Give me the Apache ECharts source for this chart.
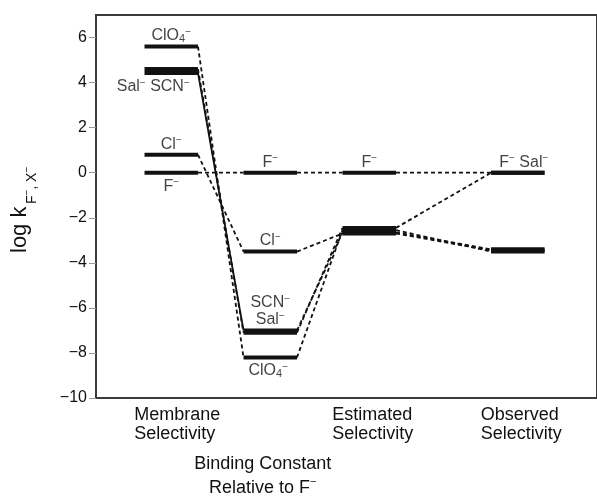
<!DOCTYPE html>
<html>
<head>
<meta charset="utf-8">
<script src="https://cdn.jsdelivr.net/npm/echarts@6/dist/echarts.min.js"></script>
<style>
  html, body { margin: 0; padding: 0; background: #fff; }
  #chart { width: 597px; height: 497px; }
</style>
</head>
<body>
<div id="chart"></div>
<script>
// Stages along the x axis and where they sit on the value axis
const stageNames = ['Membrane\nSelectivity', 'Binding Constant\nRelative to F⁻', 'Estimated\nSelectivity', 'Observed\nSelectivity'];
const stageX = [1, 2, 3, 4.5];

// Anions and their log k(F⁻, X⁻) at each stage
const ions = ['F⁻', 'Cl⁻', 'SCN⁻', 'Sal⁻', 'ClO₄⁻'];
const membraneSel = [0, 0.8, 4.43, 4.6, 5.6];
const bindingRel = [0, -3.5, -7.0, -7.1, -8.2];
const estimatedSel = [0, -2.7, -2.65, -2.45, -2.55];
const observedSel = [0, -3.45, -3.4, 0, -3.5];

// y tick labels
const yTicks = [-10, -8, -6, -4, -2, 0, 2, 4, 6];

// Connector kind for each ion between consecutive stages
const linkKinds = [
  ['dashed', 'dashed', 'dashed'],
  ['dashed', 'dashed', 'dashed'],
  ['solid', 'dashed', 'dashed'],
  ['dashed', 'dashed', 'dashed'],
  ['dashed', 'dashed', 'dashed']
];

// Level annotations: text, stage, ion whose level they mark
const tagTexts = ['ClO₄⁻', 'Sal⁻ SCN⁻', 'Cl⁻', 'F⁻', 'F⁻', 'Cl⁻', 'SCN⁻\nSal⁻', 'ClO₄⁻', 'F⁻', 'F⁻ Sal⁻'];
const tagStages = [0, 0, 0, 0, 1, 1, 1, 1, 2, 3];
const tagIons = [4, 2, 1, 0, 0, 1, 2, 4, 0, 3];

const stageVals = [membraneSel, bindingRel, estimatedSel, observedSel];
const FONT = '"Liberation Sans", Arial, sans-serif';
const INK = '#111';
const HALF = 0.27; // half length of a level bar, in x units

// Turn "ClO₄⁻" style strings into rich text with sub/superscripts
function toRich(str) {
  return str.split('\n').map(line => {
    let out = '', buf = '';
    for (const ch of line) {
      if (ch === '⁻' || ch === '₄') {
        if (buf) { out += '{t|' + buf + '}'; buf = ''; }
        out += ch === '⁻' ? '{p|−}' : '{b|4}';
      } else {
        buf += ch;
      }
    }
    if (buf) out += '{t|' + buf + '}';
    return out;
  }).join('\n');
}

const tagRich = {
  t: { fontSize: 16, lineHeight: 17, color: INK, fontFamily: FONT },
  p: { fontSize: 10, lineHeight: 8, verticalAlign: 'top', color: INK, fontFamily: FONT },
  b: { fontSize: 11, lineHeight: 11, verticalAlign: 'bottom', color: INK, fontFamily: FONT }
};

const series = [];

// dashed / solid connectors between stage levels
ions.forEach((ion, i) => {
  for (let s = 0; s < 3; s++) {
    series.push({
      type: 'line',
      name: ion,
      silent: true,
      symbol: 'none',
      z: 2,
      lineStyle: {
        color: INK,
        width: 1.8,
        type: linkKinds[i][s] === 'dashed' ? [4, 3] : 'solid',
        cap: 'butt'
      },
      data: [
        [stageX[s] + HALF, stageVals[s][i]],
        [stageX[s + 1] - HALF, stageVals[s + 1][i]]
      ]
    });
  }
});

// level bars
ions.forEach((ion, i) => {
  for (let s = 0; s < 4; s++) {
    series.push({
      type: 'line',
      name: ion,
      silent: true,
      symbol: 'none',
      z: 3,
      lineStyle: { color: INK, width: 4, cap: 'butt' },
      data: [
        [stageX[s] - HALF, stageVals[s][i]],
        [stageX[s] + HALF, stageVals[s][i]]
      ]
    });
  }
});

// annotations placed above or below their level
const tagSide = ['top', 'bottom', 'top', 'bottom', 'top', 'top', 'top', 'bottom', 'top', 'top'];
const tagShift = [0, -18, 0, 0, 0, 0, 0, -2, 0, 6];
series.push({
  type: 'scatter',
  silent: true,
  symbolSize: 0,
  z: 5,
  label: { show: true, rich: tagRich },
  data: tagTexts.map((txt, k) => ({
    value: [stageX[tagStages[k]], stageVals[tagStages[k]][tagIons[k]]],
    label: {
      show: true,
      position: tagSide[k],
      distance: tagSide[k] === 'top' ? 2 : 5,
      offset: [tagShift[k], 0],
      formatter: toRich(txt),
      rich: tagRich
    }
  }))
});

// x axis captions: left-aligned two-line captions, and one lower centred caption
function stageCaption(v) {
  const idx = stageX.indexOf(v);
  if (idx < 0) return '';
  return stageNames[idx].split('\n').map(l => '{x|' + l + '}').join('\n');
}
function bindingCaption(v) {
  const idx = stageX.indexOf(v);
  if (idx < 0) return '';
  const lines = stageNames[idx].split('\n');
  return lines.map(l => {
    if (l.endsWith('⁻')) return '{y|' + l.slice(0, -1) + '}{q|−}{s| }';
    return '{y|' + l + '}{s| }';
  }).join('\n');
}

const chart = echarts.init(document.getElementById('chart'), null, { renderer: 'canvas' });
chart.setOption({
  animation: false,
  backgroundColor: '#fff',
  textStyle: { fontFamily: FONT },
  grid: {
    left: 96, right: -5, top: 15, bottom: 94,
    show: true, borderColor: '#3a3a3a', borderWidth: 2, backgroundColor: 'transparent'
  },
  xAxis: [
    {
      type: 'value', min: 0.24, max: 5.3,
      axisLine: { show: false }, axisTick: { show: false }, splitLine: { show: false },
      axisLabel: {
        customValues: [stageX[0], stageX[2], stageX[3]],
        formatter: stageCaption,
        margin: 8,
        rich: {
          x: { fontSize: 18, lineHeight: 19, width: 74, align: 'left', color: INK, fontFamily: FONT }
        }
      }
    },
    {
      type: 'value', min: 0.24, max: 5.3, position: 'bottom',
      axisLine: { show: false }, axisTick: { show: false }, splitLine: { show: false },
      axisLabel: {
        customValues: [stageX[1]],
        formatter: bindingCaption,
        margin: 54,
        rich: {
          y: { fontSize: 18, lineHeight: 24, color: INK, fontFamily: FONT },
          q: { fontSize: 11, lineHeight: 12, verticalAlign: 'top', color: INK, fontFamily: FONT },
          s: { fontSize: 18, lineHeight: 24, width: 15 }
        }
      }
    }
  ],
  yAxis: {
    type: 'value', min: -10, max: 7,
    axisLine: { show: false },
    splitLine: { show: false },
    axisTick: { show: true, length: 7, customValues: yTicks, lineStyle: { color: '#9a9a9a', width: 1 } },
    axisLabel: {
      customValues: yTicks,
      margin: 9,
      fontSize: 16,
      color: INK,
      fontFamily: FONT,
      formatter: v => String(v).replace('-', '−')
    }
  },
  graphic: [
    {
      type: 'group',
      x: 20, y: 253,
      rotation: Math.PI / 2,
      silent: true,
      children: [
        { type: 'text', style: { text: 'log k', x: 0, y: 0, font: '22px ' + FONT, fill: INK, align: 'left', verticalAlign: 'middle', textAlign: 'left', textVerticalAlign: 'middle' } },
        { type: 'text', style: { text: 'F', x: 49, y: 12.2, font: '14px ' + FONT, fill: INK, align: 'left', verticalAlign: 'middle', textAlign: 'left', textVerticalAlign: 'middle' } },
        { type: 'text', style: { text: '−', x: 57.5, y: 7, font: '10px ' + FONT, fill: INK, align: 'left', verticalAlign: 'middle', textAlign: 'left', textVerticalAlign: 'middle' } },
        { type: 'text', style: { text: ',', x: 63.5, y: 12.2, font: '14px ' + FONT, fill: INK, align: 'left', verticalAlign: 'middle', textAlign: 'left', textVerticalAlign: 'middle' } },
        { type: 'text', style: { text: 'X', x: 71, y: 12.2, font: '14px ' + FONT, fill: INK, align: 'left', verticalAlign: 'middle', textAlign: 'left', textVerticalAlign: 'middle' } },
        { type: 'text', style: { text: '−', x: 80.5, y: 7, font: '10px ' + FONT, fill: INK, align: 'left', verticalAlign: 'middle', textAlign: 'left', textVerticalAlign: 'middle' } }
      ]
    }
  ],
  series: series
});
</script>
</body>
</html>
